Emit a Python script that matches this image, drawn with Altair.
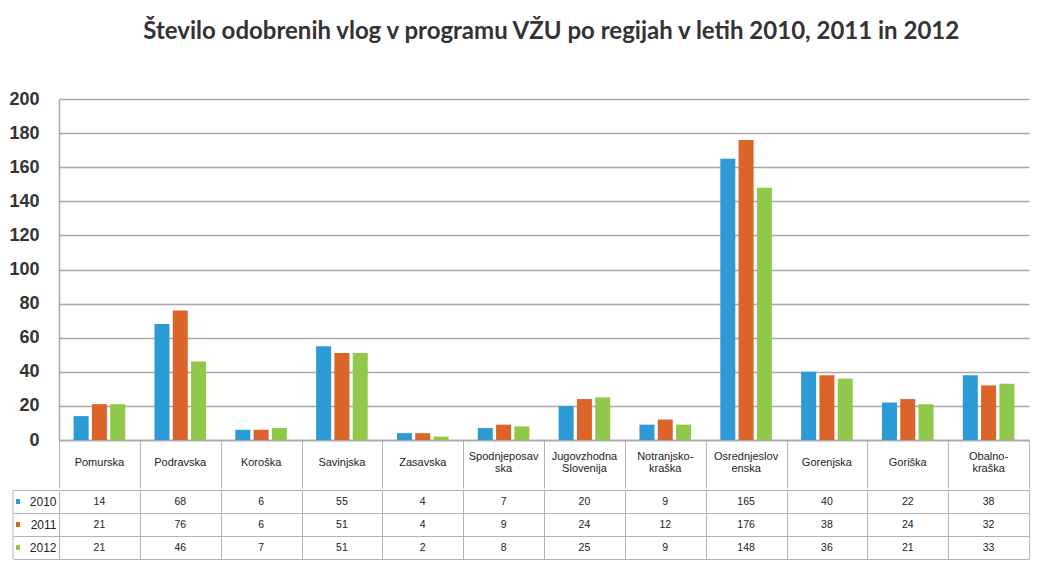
import altair as alt
import pandas as pd

# ---- data ----
regions = ["Pomurska", "Podravska", "Koroška", "Savinjska", "Zasavska",
           "Spodnjeposav\nska", "Jugovzhodna\nSlovenija", "Notranjsko-\nkraška",
           "Osrednjeslov\nenska", "Gorenjska", "Goriška", "Obalno-\nkraška"]
years = ["2010", "2011", "2012"]
v2010 = [14, 68, 6, 55, 4, 7, 20, 9, 165, 40, 22, 38]
v2011 = [21, 76, 6, 51, 4, 9, 24, 12, 176, 38, 24, 32]
v2012 = [21, 46, 7, 51, 2, 8, 25, 9, 148, 36, 21, 33]
colors = ["#2b9ad6", "#dc6329", "#90c84a"]
y_ticks = [0, 20, 40, 60, 80, 100, 120, 140, 160, 180, 200]
title = "Število odobrenih vlog v programu VŽU po regijah v letih 2010, 2011 in 2012"

rows = []
for yr, vals in zip(years, [v2010, v2011, v2012]):
    for r, v in zip(regions, vals):
        rows.append({"region": r, "year": yr, "value": v})
df = pd.DataFrame(rows)
hdr = pd.DataFrame({"region": regions,
                    "two": ["\n" in r for r in regions]})

GRID = "#a8a8a8"
TABLE = "#b4b4b4"
W = 970
H = 341
ROW = 23

color_enc = alt.Color("year:N", scale=alt.Scale(domain=years, range=colors), legend=None)
xscale = alt.Scale(domain=regions, paddingInner=0, paddingOuter=0)
xaxis = alt.Axis(title=None, labels=False,
                 tickBand="extent", tickSize=48, tickColor=TABLE, tickWidth=1,
                 domainColor=GRID, domainWidth=1.5, grid=False)

bars = alt.Chart(df).mark_bar().encode(
    x=alt.X("region:N", sort=regions, scale=xscale, axis=xaxis),
    xOffset=alt.XOffset("year:N", sort=years, scale=alt.Scale(paddingInner=0.18, paddingOuter=0.8)),
    y=alt.Y("value:Q", scale=alt.Scale(domain=[0, 200]),
            axis=alt.Axis(values=y_ticks, title=None, ticks=False, labelPadding=20,
                          labelFont="Liberation Sans", labelFontSize=18, labelFontWeight="bold",
                          labelColor="#333", gridColor=GRID, gridWidth=1.5,
                          domainColor=GRID, domainWidth=1.5)),
    color=color_enc,
)

hbase = alt.Chart(hdr).mark_text(font="Liberation Sans", fontSize=11, color="#222",
                                 lineBreak="\n", lineHeight=12, baseline="middle")
h_one = hbase.transform_filter("!datum.two").encode(
    x=alt.X("region:N", sort=regions, scale=xscale, axis=xaxis),
    y=alt.value(H + 23), text="region:N")
h_two = hbase.transform_filter("datum.two").encode(
    x=alt.X("region:N", sort=regions, scale=xscale, axis=xaxis),
    y=alt.value(H + 17), text="region:N")

top = alt.layer(bars, h_one, h_two).properties(width=W, height=H)

tbase = alt.Chart(df).encode(
    x=alt.X("region:N", sort=regions, scale=xscale,
            axis=alt.Axis(title=None, labels=False, ticks=False, domain=False, grid=True,
                          tickBand="extent", gridColor=TABLE, gridWidth=1, orient="bottom")),
    y=alt.Y("year:N", sort=years,
            scale=alt.Scale(paddingInner=0, paddingOuter=0),
            axis=alt.Axis(title=None, grid=True, tickBand="extent", ticks=True, tickSize=46,
                          tickColor=TABLE, gridColor=TABLE, gridWidth=1, domain=False,
                          labelPadding=-43, labelBaseline="middle", labelAlign="right",
                          labelFont="Liberation Sans", labelFontSize=12, labelColor="#222")),
)
cells = tbase.mark_text(font="Liberation Sans", fontSize=10.5, color="#222").encode(text="value:Q")
squares = tbase.mark_square(size=14, opacity=1).encode(x=alt.value(-41), color=color_enc)
border = alt.Chart(pd.DataFrame({"a": [0]})).mark_rule(color=TABLE, strokeWidth=1).encode(
    x=alt.value(-46), y=alt.value(0), y2=alt.value(ROW * 3))

table = alt.layer(cells, squares, border).properties(width=W, height=ROW * 3)

chart = alt.vconcat(top, table, spacing=-5).properties(
    title=alt.TitleParams(title, font="Lato", fontSize=24, fontWeight="bold", color="#333",
                          anchor="middle", offset=46, dx=32),
    padding={"left": 0, "top": 12, "right": 0, "bottom": 0},
).configure_view(stroke=None)

chart.save("out.html", embed_options={"renderer": "svg", "actions": False})
